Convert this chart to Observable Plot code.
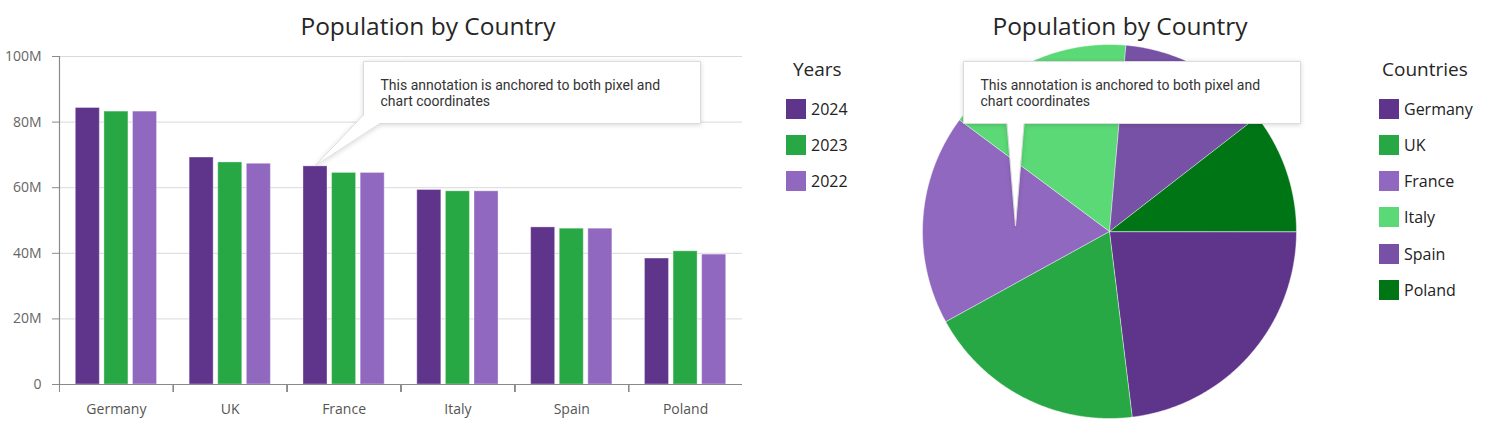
<!DOCTYPE html>
<html><head><meta charset="utf-8">
<script src="https://cdn.jsdelivr.net/npm/d3@7"></script>
<script src="https://cdn.jsdelivr.net/npm/@observablehq/plot@0.6"></script>
<style>
body{margin:0;background:#fff;font-family:"Open Sans",sans-serif;}
#root{position:relative;width:1495px;height:429px;overflow:hidden;background:#fff;}
.title{position:absolute;top:14px;font-size:24.5px;color:#262626;transform:translateX(-50%);white-space:nowrap;line-height:1;}
.lgtitle{position:absolute;font-size:19px;color:#262626;white-space:nowrap;line-height:1;}
.lgrow{position:absolute;display:flex;align-items:center;font-size:16px;color:#222;white-space:nowrap;}
.sw{width:20px;height:20px;margin-right:5px;}
.note{position:absolute;font-family:Roboto,sans-serif;font-size:14px;line-height:16.5px;height:16.5px;color:#333;white-space:nowrap;}
</style></head><body><div id="root"></div>
<script>
// ---- data ----
const countries = ["Germany", "UK", "France", "Italy", "Spain", "Poland"];
const years = ["2024", "2023", "2022"];
const pop2024 = [84.3, 69.2, 66.5, 59.3, 47.9, 38.4];   // millions
const pop2023 = [83.2, 67.7, 64.5, 58.9, 47.5, 40.6];
const pop2022 = [83.2, 67.3, 64.5, 58.9, 47.5, 39.6];
const yTicks = [0, 20, 40, 60, 80, 100];
const yearColors = ["#5f358c", "#28a745", "#9168bf"];
const pieColors = ["#5f358c", "#28a745", "#9168bf", "#5bd976", "#7751a5", "#007516"];
const titleText = "Population by Country";
const noteText = ["This annotation is anchored to both pixel and", "chart coordinates"];
const noteAnchorBar = {country: "France", year: "2024"};
const noteAnchorPie = [-0.5, -0.027]; // in pie radius units

const FONT = '"Open Sans", sans-serif';
const root = document.getElementById("root");
const series = [pop2024, pop2023, pop2022];
const barData = countries.flatMap((c, i) => years.map((y, j) => ({country: c, year: y, value: series[j][i]})));

// ---- bar chart ----
const BW = 745, BH = 429, ML = 59, MR = 3, MT = 56, MB = 45;
const step = (BW - ML - MR) / countries.length;
const barPlot = Plot.plot({
  width: BW, height: BH,
  marginLeft: ML, marginRight: MR, marginTop: MT, marginBottom: MB,
  style: {fontFamily: FONT, fontSize: "14px", color: "#666", background: "transparent", overflow: "visible"},
  fx: {domain: countries, padding: 0, round: false, label: null, axis: null},
  x: {domain: years, paddingInner: 0.16, paddingOuter: 0.57, round: false, axis: null},
  y: {domain: [0, 100], label: null, axis: null},
  color: {domain: years, range: yearColors},
  marks: [
    Plot.gridY(yTicks, {stroke: "#d9d9d9", strokeOpacity: 1}),
    Plot.barY(barData, {fx: "country", x: "year", y: "value", fill: "year", stroke: "#ffffff", strokeOpacity: 0.35, strokeWidth: 1}),
    Plot.ruleY([0], {stroke: "#8a8a8a", strokeWidth: 1.2}),
    Plot.frame({anchor: "left", facetAnchor: "left", stroke: "#8a8a8a", strokeWidth: 1.2}),
    Plot.axisY(yTicks, {anchor: "left", tickSize: 7, tickPadding: 11, stroke: "#8a8a8a", fill: "#666", label: null,
      tickFormat: d => d === 0 ? "0" : d + "M", fontSize: 14}),
    Plot.axisFx({anchor: "bottom", tickSize: 0, tickPadding: 20, label: null, fill: "#555", fontSize: 14}),
    Plot.axisFx(countries.slice(1), {anchor: "bottom", tickSize: 8, tickFormat: () => "", label: null,
      dx: -step / 2, stroke: "#8a8a8a"})
  ]
});
barPlot.style.position = "absolute";
barPlot.style.left = "0px";
barPlot.style.top = "0px";
root.appendChild(barPlot);

// ---- pie chart ----
const PR = 187, PCX = 1109, PCY = 231;
const pieData = countries.map((c, i) => ({country: c, value: pop2024[i]}));
const arcs = d3.pie().sort(null).value(d => d.value).startAngle(Math.PI / 2).endAngle(Math.PI / 2 + 2 * Math.PI)(pieData);
function slicePolygon(a) {
  const pts = [[0, 0]];
  const n = Math.max(2, Math.ceil((a.endAngle - a.startAngle) / (Math.PI / 360)));
  for (let k = 0; k <= n; k++) {
    const t = a.startAngle + (a.endAngle - a.startAngle) * k / n;
    pts.push([Math.sin(t), -Math.cos(t)]);
  }
  pts.push([0, 0]);
  return {type: "Polygon", coordinates: [pts]};
}
const piePlot = Plot.plot({
  width: 2 * PR, height: 2 * PR, margin: 0,
  style: {background: "transparent", overflow: "visible"},
  projection: {type: "identity", domain: {type: "MultiPoint", coordinates: [[-1, -1], [1, 1]]}},
  color: {domain: countries, range: pieColors},
  marks: [
    Plot.geo(arcs, {geometry: slicePolygon, fill: d => d.data.country, stroke: "#ffffff", strokeOpacity: 0.6, strokeWidth: 0.8})
  ]
});
piePlot.style.position = "absolute";
piePlot.style.left = (PCX - PR) + "px";
piePlot.style.top = (PCY - PR) + "px";
root.appendChild(piePlot);

// ---- titles ----
function addTitle(cx) {
  const t = document.createElement("div");
  t.className = "title"; t.textContent = titleText; t.style.left = cx + "px";
  root.appendChild(t);
}
addTitle(428); addTitle(1120);

// ---- legends ----
function addLegend(title, items, colors, titleX, swX) {
  const t = document.createElement("div");
  t.className = "lgtitle"; t.textContent = title;
  t.style.left = titleX + "px"; t.style.top = "60px";
  root.appendChild(t);
  items.forEach((it, i) => {
    const r = document.createElement("div");
    r.className = "lgrow";
    r.style.left = swX + "px"; r.style.top = (97.5 + i * 36.3) + "px";
    r.innerHTML = `<div class="sw" style="background:${colors[i]}"></div><span>${it}</span>`;
    root.appendChild(r);
  });
}
addLegend("Years", years, yearColors, 793, 786);
addLegend("Countries", countries, pieColors, 1382, 1379);

// ---- annotations ----
const NS = "http://www.w3.org/2000/svg";
const ov = document.createElementNS(NS, "svg");
ov.setAttribute("width", 1495); ov.setAttribute("height", 429);
ov.style.position = "absolute"; ov.style.left = "0"; ov.style.top = "0";
ov.style.overflow = "visible";
ov.innerHTML = `<defs><filter id="sh" x="-10%" y="-30%" width="120%" height="180%"><feDropShadow dx="0" dy="1" stdDeviation="2.5" flood-color="#000" flood-opacity="0.16"/></filter></defs>`;
root.appendChild(ov);

const fxS = barPlot.scale("fx"), xS = barPlot.scale("x"), yS = barPlot.scale("y");
const ai = countries.indexOf(noteAnchorBar.country);
const tipBar = [
  fxS.apply(noteAnchorBar.country) + xS.apply(noteAnchorBar.year) - ML + xS.bandwidth / 2,
  yS.apply(series[years.indexOf(noteAnchorBar.year)][ai])
];
const tipPie = [PCX + noteAnchorPie[0] * PR, PCY + noteAnchorPie[1] * PR];

function callout(box, pts) {
  const [x0, y0, x1, y1] = box;
  const p = document.createElementNS(NS, "path");
  p.setAttribute("d", `M${x0},${y0}H${x1}V${y1}` + pts.map(q => `L${q[0]},${q[1]}`).join("") + "Z");
  p.setAttribute("fill", "#fff");
  p.setAttribute("stroke", "#dcdcdc");
  p.setAttribute("stroke-width", "1");
  p.setAttribute("filter", "url(#sh)");
  ov.appendChild(p);
  noteText.forEach((line, k) => {
    const n = document.createElement("div");
    n.className = "note";
    n.style.left = (x0 + 17) + "px"; n.style.top = (y0 + 15 + k * 16.5) + "px";
    n.textContent = line;
    root.appendChild(n);
  });
}
callout([363.5, 61.5, 700.5, 123.5], [[380, 123.5], tipBar, [363.5, 115]]);
callout([963.5, 61.5, 1300.5, 123.5], [[1024, 123.5], tipPie, [1007, 123.5], [963.5, 123.5]]);
</script></body></html>
